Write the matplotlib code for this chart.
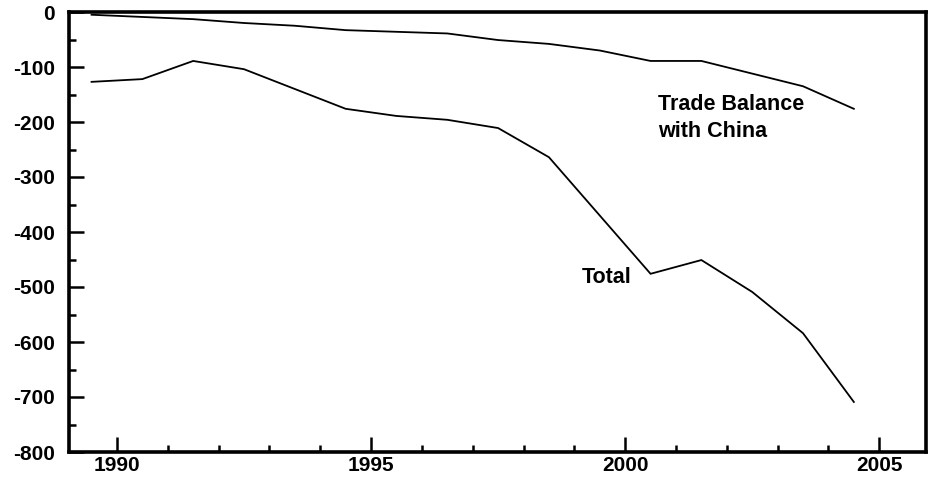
import matplotlib
matplotlib.use("Agg")
import matplotlib.pyplot as plt
from matplotlib.ticker import MultipleLocator, FixedLocator
import numpy as np

years = [1989, 1990, 1991, 1992, 1993, 1994, 1995, 1996, 1997, 1998, 1999, 2000, 2001, 2002, 2003, 2004]
total = [-127, -122, -89, -104, -140, -176, -189, -196, -211, -264, -370, -476, -451, -509, -584, -709]
china = [-5, -9, -13, -20, -25, -33, -36, -39, -51, -58, -70, -89, -89, -112, -135, -176]
x_ticks = [1990, 1995, 2000, 2005]
y_ticks = [0, -100, -200, -300, -400, -500, -600, -700, -800]
label_china = "Trade Balance\nwith China"
label_total = "Total"

plt.rcParams['font.family'] = ['Liberation Sans', 'DejaVu Sans']
plt.rcParams['font.weight'] = 'bold'
plt.rcParams['axes.unicode_minus'] = False

fig = plt.figure(figsize=(9.30, 4.78), dpi=100)
ax = fig.add_axes([69/930, 1-452/478, (926-69)/930, (452-12)/478])

xs = np.array(years) + 0.5
ax.plot(xs, total, color='black', lw=1.3, solid_joinstyle='miter')
ax.plot(xs, china, color='black', lw=1.3, solid_joinstyle='miter')

ax.set_xlim(1989.056, 2005.92)
ax.set_ylim(-800, 0)

ax.xaxis.set_major_locator(FixedLocator(x_ticks))
ax.xaxis.set_minor_locator(MultipleLocator(1))
ax.yaxis.set_major_locator(FixedLocator(y_ticks))
ax.yaxis.set_minor_locator(MultipleLocator(50))

ax.tick_params(axis='both', which='major', direction='in', length=11, width=1.8,
               labelsize=15, color='black')
ax.tick_params(axis='both', which='minor', direction='in', length=5, width=1.8, color='black')
ax.tick_params(axis='y', which='major', pad=10)
ax.tick_params(axis='x', which='major', pad=3)
for lab in ax.get_xticklabels() + ax.get_yticklabels():
    lab.set_fontweight('bold')

for s in ax.spines.values():
    s.set_linewidth(2.6)
    s.set_color('black')

ax.text(2000.65, -149, label_china, fontsize=15.5, fontweight='bold', va='top', ha='left',
        linespacing=1.4)
ax.text(1999.15, -493, label_total, fontsize=15.5, fontweight='bold', va='baseline', ha='left')

fig.savefig("out.png", dpi=100)
